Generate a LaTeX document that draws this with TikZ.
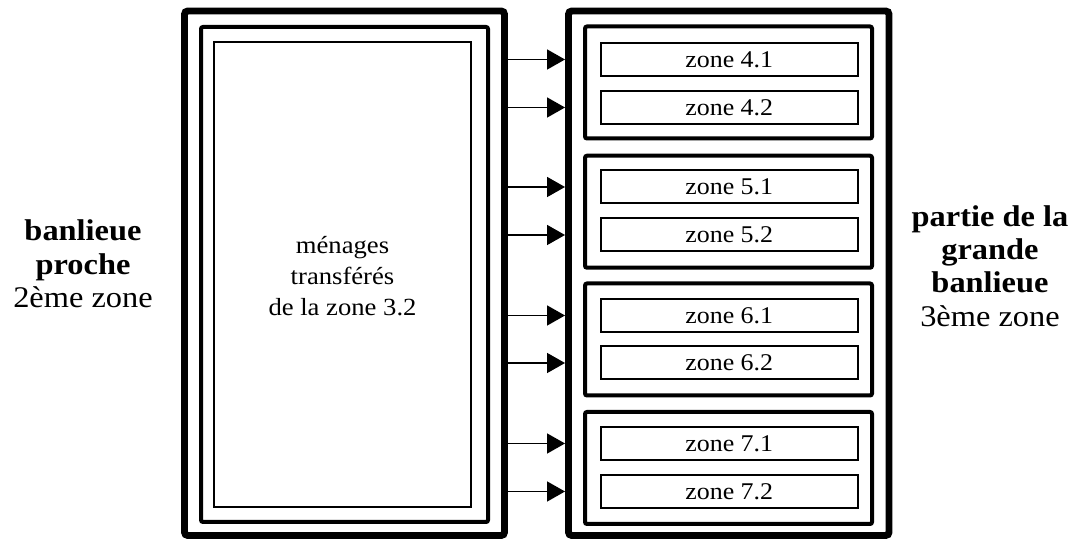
\documentclass[tikz,border=0pt]{standalone}
\usepackage{fontspec}
\setmainfont{Liberation Serif}
\newfontfamily\zfont[FakeStretch=1.08]{Liberation Serif}
\usetikzlibrary{arrows.meta}
\begin{document}
\begin{tikzpicture}[x=0.75pt,y=-0.75pt,
  outerbox/.style={draw, line width=5.2pt, rounded corners=2.5pt, inner sep=0pt},
  midbox/.style={draw, line width=3pt, rounded corners=1.5pt, inner sep=0pt},
  thinbox/.style={draw, line width=1.5pt, inner sep=0pt},
  subbox/.style={draw, line width=3pt, rounded corners=1.5pt, inner sep=0pt, minimum width=287*0.75pt, minimum height=112*0.75pt},
  zonebox/.style={draw, line width=1.5pt, inner sep=0pt, minimum width=256.5*0.75pt, minimum height=33*0.75pt, font=\zfont\fontsize{18}{20}\selectfont},
  arr/.style={line width=1.1pt, -{Triangle[length=13.5pt,width=15pt]}},
  sidelabel/.style={align=center, inner sep=0pt, font=\zfont\fontsize{22.5}{25}\selectfont}
]
\useasboundingbox (0,0) rectangle (1079,541);
% left column
\node[outerbox, minimum width=320*0.75pt, minimum height=524.5*0.75pt] (L) at (344.5,273.25) {};
\node[midbox, minimum width=287*0.75pt, minimum height=495*0.75pt] (L2) at (344.5,274.5) {};
\node[thinbox, minimum width=257*0.75pt, minimum height=464.5*0.75pt] (L3) at (342.5,274.75) {};
\node[align=center, inner sep=0pt, font=\zfont\fontsize{18.5}{23.25}\selectfont] (mt) at (342.5,276) {ménages\\transférés\\de la zone 3.2};
% right column
\node[outerbox, minimum width=320.5*0.75pt, minimum height=524.5*0.75pt] (R) at (728.75,273.25) {};
\node[subbox] (S4) at (728.5,82.5) {};
\node[subbox] (S5) at (728.5,211.75) {};
\node[subbox] (S6) at (728.5,339.5) {};
\node[subbox] (S7) at (728.5,468) {};
\node[zonebox] (z41) at (729.25,59.5) {zone 4.1};
\node[zonebox] (z42) at (729.25,107.5) {zone 4.2};
\node[zonebox] (z51) at (729.25,187) {zone 5.1};
\node[zonebox] (z52) at (729.25,235) {zone 5.2};
\node[zonebox] (z61) at (729.25,315.5) {zone 6.1};
\node[zonebox] (z62) at (729.25,363) {zone 6.2};
\node[zonebox] (z71) at (729.25,443.5) {zone 7.1};
\node[zonebox] (z72) at (729.25,491.5) {zone 7.2};
% arrows
\foreach \z in {z41,z42,z51,z52,z61,z62,z71,z72}
  \draw[arr] (L.east |- \z.center) -- (R.west |- \z.center);
% side labels
\node[sidelabel] (lt) at (83,264) {\bfseries banlieue\\\bfseries proche\\2ème zone};
\node[sidelabel] (rt) at (990,266) {\bfseries partie de la\\\bfseries grande\\\bfseries banlieue\\3ème zone};
\end{tikzpicture}
\end{document}
